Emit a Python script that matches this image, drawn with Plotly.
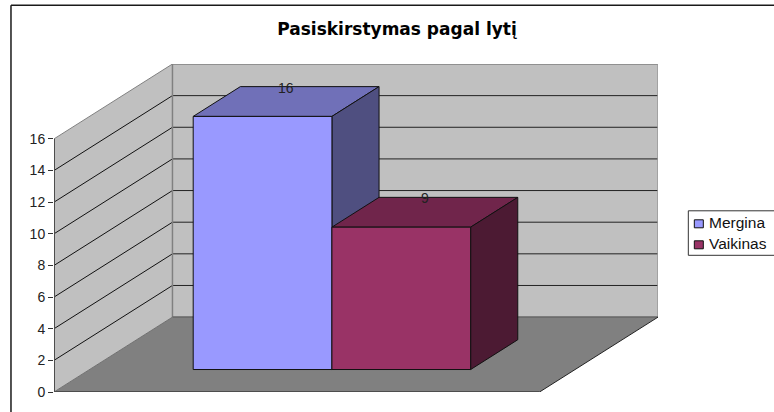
import plotly.graph_objects as go

# Data
title_text = "Pasiskirstymas pagal lytį"
series = ["Mergina", "Vaikinas"]
values = [16, 9]
y_ticks = [0, 2, 4, 6, 8, 10, 12, 14, 16]

# Colours per series: front, top, side
front_cols = ["#9999FF", "#993366"]
top_cols = ["#7070B8", "#70254B"]
side_cols = ["#4F4F80", "#4C1A33"]

# Oblique projection parameters
W, H = 774, 412
left_px, floor_right_px, wall_right_px = 54, 539.3, 657.7
bottom_px, top_px = 391.7, 63.7
unit_px = (bottom_px - 138.2) / 16
floor_w = floor_right_px - left_px
kx = (wall_right_px - floor_right_px) / floor_w   # x shift for full depth
ky = 75 / unit_px                                 # y shift for full depth
d0, d1 = 0.30, 0.698                              # bar front/back depth
gap = 0.2135                                      # side gap, fraction of width
bw = (1 - 2 * 0.2143) / len(values)
vmax = y_ticks[-1]


def P(x, v, d):
    return x + d * kx, v + d * ky


def px(x):
    return (x - left_px) / (wall_right_px - left_px)


def py(y):
    return (bottom_px - y) / (bottom_px - top_px)


def poly(pts, fill, line=None, lw=1, xref="x", yref="y", layer="below"):
    path = "M " + " L ".join(f"{a:.5f},{b:.5f}" for a, b in pts) + " Z"
    return dict(type="path", path=path, xref=xref, yref=yref, layer=layer,
                fillcolor=fill, line=dict(color=line, width=lw) if line else dict(width=0))


def seg(p, q, color, lw=1):
    return dict(type="line", x0=p[0], y0=p[1], x1=q[0], y1=q[1], xref="x", yref="y",
                layer="below", line=dict(color=color, width=lw))


def pseg(x0, y0, x1, y1, color, lw=1):
    return dict(type="line", xref="paper", yref="paper", layer="above",
                x0=px(x0), y0=py(y0), x1=px(x1), y1=py(y1), line=dict(color=color, width=lw))


shapes = []
# walls and floor
shapes.append(poly([P(0, 0, 0), P(0, 0, 1), P(1, 0, 1), P(1, 0, 0)], "#808080"))
shapes.append(poly([P(0, 0, 0), P(0, 0, 1), P(0, vmax, 1), P(0, vmax, 0)], "#C0C0C0"))
shapes.append(poly([P(0, 0, 1), P(1, 0, 1), P(1, vmax, 1), P(0, vmax, 1)], "#C0C0C0"))
# gridlines
for v in y_ticks[1:-1]:
    shapes.append(seg(P(0, v, 0), P(0, v, 1), "#111111"))
    shapes.append(seg(P(0, v, 1), P(1, v, 1), "#222222"))
# wall edges
shapes.append(seg(P(0, vmax, 0), P(0, vmax, 1), "#808080"))
shapes.append(seg(P(0, vmax, 1), P(1, vmax, 1), "#808080", 1.5))
shapes.append(seg(P(0, 0, 1), P(0, vmax, 1), "#808080", 1.5))
shapes.append(seg(P(1, 0, 1), P(1, vmax, 1), "#999999", 1.5))
shapes.append(seg(P(0, 0, 1), P(1, 0, 1), "#666666", 1.5))
shapes.append(seg(P(0, 0, 0), P(0, 0, 1), "#707070"))
shapes.append(seg(P(1, 0, 0), P(1, 0, 1), "#222222"))
shapes.append(seg(P(0, 0, 0), P(1, 0, 0), "#4d4d4d", 2))
shapes.append(seg(P(0, 0, 0), P(0, vmax, 0), "#4d4d4d", 2))

# 3D bar faces (top and side), behind the front faces
for i, v in enumerate(values):
    x0 = gap + i * bw
    x1 = x0 + bw
    shapes.append(poly([P(x0, v, d0), P(x1, v, d0), P(x1, v, d1), P(x0, v, d1)],
                       top_cols[i], "#111111"))
    shapes.append(poly([P(x1, 0, d0), P(x1, v, d0), P(x1, v, d1), P(x1, 0, d1)],
                       side_cols[i], "#111111"))

# chart-area frame, open on the right and at the bottom
shapes.append(pseg(11, 412, 11, 5, "#1a1a1a", 1.5))
shapes.append(pseg(11, 5, 774, 5, "#1a1a1a", 1.5))

fig = go.Figure()
annotations = []
for i, v in enumerate(values):
    x0 = gap + i * bw
    xc, base = P(x0 + bw / 2, 0, d0)
    fig.add_trace(go.Bar(x=[xc], y=[v], base=[base], width=[bw], name=series[i],
                         marker=dict(color=front_cols[i], line=dict(color="#111111", width=1)),
                         hoverinfo="skip", showlegend=False))
    lx, ly = P(x0 + bw / 2, v, (d0 + d1) / 2)
    annotations.append(dict(x=lx, y=ly, text=str(v), showarrow=False, yshift=14,
                            font=dict(family="Liberation Sans", size=14, color="#222222")))

# legend box, running off the right edge as in the source
leg_font = dict(family="Liberation Sans", size=15.5, color="#111111")
shapes.append(poly([(px(688), py(210.5)), (px(780), py(210.5)), (px(780), py(255)), (px(688), py(255))],
                   "white", "#333333", 1, "paper", "paper", "above"))
leg_y = [223.5, 244.5]
for i, name in enumerate(series):
    shapes.append(poly([(px(694), py(leg_y[i] - 4)), (px(703), py(leg_y[i] - 4)),
                        (px(703), py(leg_y[i] + 4)), (px(694), py(leg_y[i] + 4))],
                       front_cols[i], "#111111", 1, "paper", "paper", "above"))
    annotations.append(dict(xref="paper", yref="paper", x=px(707), y=py(leg_y[i] - 1), text=name,
                            showarrow=False, xanchor="left", yanchor="middle", font=leg_font))

fig.update_layout(
    width=W, height=H,
    autosize=False,
    barmode="overlay",
    paper_bgcolor="white", plot_bgcolor="rgba(0,0,0,0)",
    margin=dict(l=left_px, r=W - wall_right_px, t=top_px, b=H - bottom_px, pad=0),
    title=dict(text=f"<b>{title_text}</b>", x=397 / W, xanchor="center", y=1 - 29.5 / H, yanchor="middle",
               font=dict(family="DejaVu Sans", size=17, color="black")),
    font=dict(family="Liberation Sans", size=14, color="#222222"),
    xaxis=dict(range=[0, 1 + kx], visible=False, fixedrange=True),
    yaxis=dict(range=[0, vmax + ky], tickmode="array", tickvals=y_ticks, ticktext=[str(t) for t in y_ticks],
               ticks="outside", ticklen=5, tickwidth=1, tickcolor="#333333",
               showgrid=False, zeroline=False, showline=False, fixedrange=True,
               tickfont=dict(family="Liberation Sans", size=14, color="#222222")),
    shapes=shapes, annotations=annotations, showlegend=False,
)
fig.write_html("out.html", config={"displayModeBar": False},
               post_script="document.body.style.margin='0';document.body.style.overflow='hidden';")
